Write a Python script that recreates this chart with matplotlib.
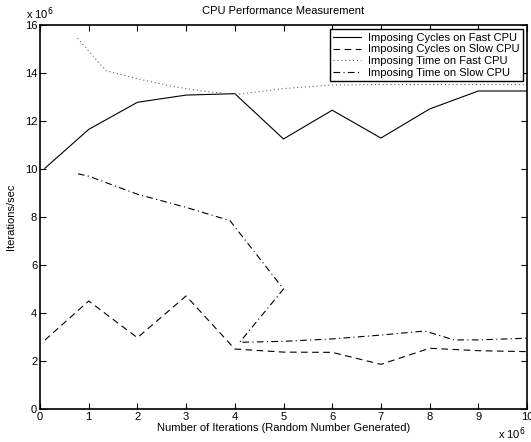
import matplotlib
matplotlib.use("Agg")
import matplotlib.pyplot as plt

plt.rcParams['font.family'] = ['Liberation Sans', 'DejaVu Sans']

# Data (x in units of 1e6 iterations, y in units of 1e6 iterations/sec)
cyc_fast_x = [0.1, 1, 2, 3, 4, 5, 6, 7, 8, 9, 10]
cyc_fast_y = [10.03, 11.65, 12.78, 13.08, 13.14, 11.25, 12.45, 11.29, 12.5, 13.25, 13.25]

cyc_slow_x = [0.1, 1, 2, 3, 4, 5, 6, 7, 8, 9, 10]
cyc_slow_y = [2.87, 4.5, 2.97, 4.71, 2.5, 2.37, 2.36, 1.86, 2.53, 2.43, 2.39]

time_fast_x = [0.77, 1.35, 2.0, 2.7, 3.3, 4.0, 5.0, 6.0, 7.0, 8.0, 9.0, 10.0]
time_fast_y = [15.45, 14.1, 13.76, 13.45, 13.26, 13.1, 13.35, 13.5, 13.52, 13.52, 13.52, 13.52]

time_slow_x = [0.78, 1, 2, 3, 3.9, 5.0, 4.1, 5, 6, 7, 7.9, 8.5, 9, 10]
time_slow_y = [9.8, 9.7, 8.95, 8.4, 7.85, 5.0, 2.78, 2.82, 2.92, 3.08, 3.25, 2.88, 2.88, 2.95]

labels = ['Imposing Cycles on Fast CPU', 'Imposing Cycles on Slow CPU',
          'Imposing Time on Fast CPU', 'Imposing Time on Slow CPU']
xticks = list(range(0, 11))
yticks = list(range(0, 17, 2))

fig = plt.figure(figsize=(5.31, 4.42), dpi=100)
ax = fig.add_axes([40/531, 33/442, 487/531, 384/442])

lw = 0.8
ax.plot(cyc_fast_x, cyc_fast_y, color='black', lw=lw, linestyle='-', label=labels[0])
ax.plot(cyc_slow_x, cyc_slow_y, color='black', lw=lw, linestyle=(0, (6, 4)), label=labels[1])
ax.plot(time_fast_x, time_fast_y, color='#666666', lw=lw, linestyle=(0, (1, 2.5)), label=labels[2])
ax.plot(time_slow_x, time_slow_y, color='black', lw=lw, linestyle=(0, (6, 3, 1, 3)), label=labels[3])

ax.set_xlim(0, 10)
ax.set_ylim(0, 16)
ax.set_xticks(xticks)
ax.set_yticks(yticks)
ax.tick_params(direction='in', length=4, width=0.8, top=True, right=True,
               labelsize=8, pad=2)
for s in ax.spines.values():
    s.set_linewidth(1.2)

ax.set_title('CPU Performance Measurement', fontsize=8, pad=8)
ax.set_xlabel('Number of Iterations (Random Number Generated)', fontsize=8, labelpad=1)
ax.set_ylabel('Iterations/sec', fontsize=8, labelpad=6)

fig.text(40/531, 1 - 14/442, r'x 10$^{6}$', fontsize=8, ha='center', va='center')
fig.text(512/531, 1 - 434/442, r'x 10$^{6}$', fontsize=8, ha='center', va='center')

leg = ax.legend(loc='upper right', fontsize=8, frameon=True, fancybox=False,
                edgecolor='black', framealpha=1, borderpad=0.3, labelspacing=0.15,
                handlelength=2.5, handletextpad=0.6, borderaxespad=0.4)
leg.get_frame().set_linewidth(1.0)

fig.savefig('out.png', dpi=100)
